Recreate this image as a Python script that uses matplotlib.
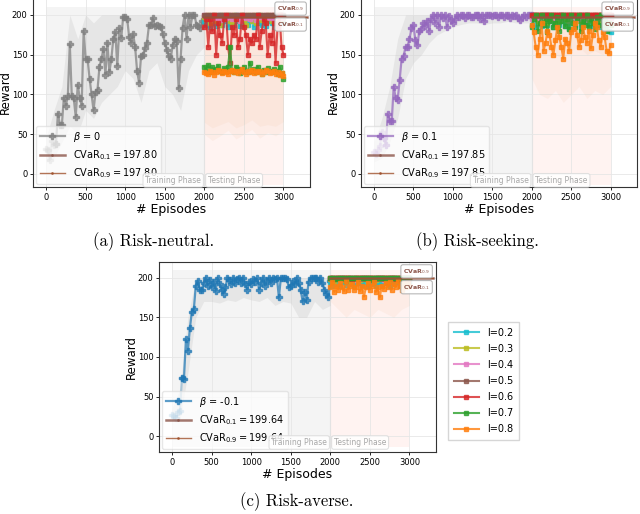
import numpy as np
import matplotlib
matplotlib.use("Agg")
import matplotlib.pyplot as plt
from matplotlib.lines import Line2D

# ---------------- data ----------------
train_ep = np.arange(0, 2001, 25)
test_ep = np.arange(2000, 3001, 25)
band_ep = np.arange(0, 2001, 100)
tband_ep = np.arange(2000, 3001, 100)

train_a = [31, 30, 17, 42, 36, 38, 76, 62, 62, 96, 86, 98, 163, 98, 95, 72, 112, 96, 86, 180,
           145, 144, 120, 100, 80, 103, 106, 135, 145, 157, 125, 165, 128, 145, 170, 178, 136, 183, 171, 198,
           198, 195, 172, 165, 176, 160, 130, 115, 148, 150, 158, 165, 187, 188, 196, 186, 187, 186, 185, 176,
           165, 156, 148, 145, 162, 170, 167, 108, 145, 184, 200, 170, 200, 185, 200, 200, 188, 186, 184, 193, 190]
train_b = [27, 25, 30, 35, 53, 45, 36, 75, 66, 67, 110, 95, 93, 118, 145, 148, 160, 160, 170, 183,
           187, 168, 162, 180, 182, 190, 186, 193, 180, 195, 200, 190, 200, 185, 200, 196, 200, 185, 199, 194,
           190, 195, 200, 198, 200, 200, 196, 200, 200, 197, 198, 200, 200, 200, 195, 200, 192, 200, 200, 200,
           199, 200, 200, 197, 200, 200, 198, 200, 200, 196, 200, 199, 200, 196, 194, 197, 200, 198, 200, 200, 200]
train_c = [27, 25, 23, 30, 32, 74, 72, 122, 108, 136, 157, 160, 190, 196, 185, 185, 193, 200, 190, 197,
           188, 195, 183, 200, 192, 185, 180, 188, 200, 197, 192, 200, 193, 198, 200, 193, 200, 192, 185, 195,
           192, 198, 195, 199, 185, 193, 200, 190, 196, 200, 193, 200, 198, 200, 175, 200, 200, 200, 198, 188,
           190, 196, 192, 200, 193, 185, 170, 182, 172, 195, 200, 200, 200, 200, 195, 200, 193, 185, 180, 175, 196]

band_a_lo = [15, 20, 40, 60, 50, 80, 70, 90, 100, 110, 130, 120, 90, 130, 140, 110, 100, 80, 130, 150, 160]
band_a_hi = [45, 80, 110, 200, 170, 200, 190, 200, 200, 200, 200, 200, 200, 200, 200, 200, 200, 200, 200, 200, 200]
band_b_lo = [15, 20, 40, 70, 120, 140, 150, 165, 175, 180, 185, 188, 190, 190, 188, 190, 190, 192, 190, 190, 190]
band_b_hi = [40, 70, 110, 170, 200, 200, 200, 200, 200, 200, 200, 200, 200, 200, 200, 200, 200, 200, 200, 200, 200]
band_c_lo = [20, 20, 80, 150, 170, 170, 168, 172, 170, 175, 172, 170, 175, 165, 170, 168, 150, 150, 170, 160, 165]
band_c_hi = [35, 60, 150, 200, 200, 200, 200, 200, 200, 200, 200, 200, 200, 200, 200, 200, 200, 200, 200, 200, 200]

levels = ["l=0.2", "l=0.3", "l=0.4", "l=0.5", "l=0.6", "l=0.7", "l=0.8"]
level_colors = ["#17becf", "#bcbd22", "#e377c2", "#8c564b", "#d62728", "#2ca02c", "#ff7f0e"]

test_a = {
    "l=0.2": [192, 188, 196, 185, 198, 190, 186, 195, 200, 188, 192, 197, 185, 190, 196, 188, 200, 193, 186, 195,
              190, 198, 187, 192, 196, 185, 193, 200, 190, 188, 195, 186, 198, 192, 190, 185, 196, 188, 193, 198, 190],
    "l=0.3": [198, 195, 200, 190, 196, 200, 192, 198, 188, 200, 195, 197, 200, 193, 190, 200, 196, 198, 192, 200,
              195, 188, 200, 197, 193, 200, 190, 196, 200, 194, 198, 191, 200, 196, 193, 200, 197, 189, 200, 195, 198],
    "l=0.4": [200, 197, 199, 195, 200, 198, 196, 200, 194, 199, 200, 196, 198, 200, 195, 199, 197, 200, 193, 198,
              200, 196, 199, 195, 200, 198, 194, 200, 197, 199, 195, 200, 198, 196, 200, 194, 199, 197, 200, 196, 199],
    "l=0.5": [200] * 41,
    "l=0.6": [185, 195, 160, 195, 180, 200, 150, 190, 175, 165, 195, 200, 160, 140, 185, 175, 195, 160, 170, 200,
              185, 175, 150, 170, 165, 175, 170, 200, 160, 180, 195, 190, 150, 175, 165, 190, 140, 185, 200, 160, 150],
    "l=0.7": [135, 130, 137, 128, 134, 130, 132, 136, 130, 128, 133, 131, 135, 160, 130, 128, 135, 132, 127, 130,
              135, 130, 128, 140, 130, 132, 128, 135, 130, 126, 131, 128, 133, 130, 128, 132, 129, 126, 135, 127, 120],
    "l=0.8": [128, 127, 126, 130, 128, 125, 128, 131, 129, 127, 130, 128, 126, 129, 131, 128, 130, 127, 129, 132,
              128, 126, 130, 128, 131, 127, 129, 128, 130, 126, 128, 131, 129, 127, 128, 130, 126, 128, 125, 127, 123],
}
test_b = {
    "l=0.2": [188, 195, 185, 198, 190, 186, 195, 200, 188, 192, 197, 185, 190, 196, 188, 200, 193, 186, 195, 182,
              190, 198, 187, 192, 196, 185, 193, 200, 190, 188, 195, 186, 198, 192, 190, 185, 196, 188, 193, 180, 178],
    "l=0.3": [198, 195, 200, 192, 196, 200, 194, 198, 190, 200, 195, 197, 200, 193, 192, 200, 196, 198, 194, 200,
              195, 190, 200, 197, 193, 200, 192, 196, 200, 194, 198, 193, 200, 196, 193, 200, 197, 191, 200, 195, 198],
    "l=0.4": [195, 200, 197, 199, 195, 200, 198, 196, 200, 194, 199, 200, 196, 198, 200, 195, 199, 197, 200, 193,
              198, 200, 196, 199, 195, 200, 198, 194, 200, 197, 199, 195, 200, 198, 196, 200, 194, 199, 197, 200, 196],
    "l=0.5": [200] * 41,
    "l=0.6": [200] * 41,
    "l=0.7": [185, 195, 200, 180, 190, 200, 188, 195, 178, 192, 200, 185, 190, 198, 180, 192, 200, 186, 195, 182,
              200, 190, 185, 196, 200, 180, 193, 188, 200, 185, 195, 190, 182, 198, 188, 200, 185, 192, 180, 190, 187],
    "l=0.8": [188, 178, 160, 150, 170, 190, 155, 165, 180, 175, 160, 150, 168, 185, 172, 160, 145, 170, 165, 155,
              178, 182, 190, 175, 160, 168, 185, 172, 165, 180, 158, 175, 190, 185, 168, 160, 178, 172, 155, 152, 162],
}
test_c = {
    "l=0.2": [194, 190, 196, 192, 198, 190, 194, 196, 191, 195, 198, 192, 190, 196, 193, 197, 191, 194, 198, 190,
              195, 192, 197, 190, 194, 196, 191, 198, 193, 195, 190, 196, 192, 197, 194, 190, 196, 193, 198, 191, 195],
    "l=0.3": [198, 200, 196, 200, 198, 200, 197, 200, 199, 200, 196, 200, 198, 200, 200, 197, 200, 198, 200, 196,
              200, 199, 200, 197, 200, 198, 200, 200, 196, 200, 198, 200, 199, 200, 197, 200, 198, 200, 196, 200, 199],
    "l=0.4": [200, 198, 200, 199, 200, 197, 200, 200, 198, 200, 199, 200, 197, 200, 200, 198, 200, 199, 200, 200,
              197, 200, 198, 200, 199, 200, 200, 197, 200, 198, 200, 199, 200, 200, 198, 200, 197, 200, 199, 200, 198],
    "l=0.5": [200] * 41,
    "l=0.6": [200, 200, 198, 200, 200, 200, 199, 200, 200, 200, 200, 198, 200, 200, 200, 200, 200, 199, 200, 200,
              200, 200, 198, 200, 200, 200, 200, 200, 199, 200, 200, 200, 200, 198, 200, 200, 200, 200, 199, 200, 200],
    "l=0.7": [200, 200, 200, 198, 200, 200, 200, 200, 196, 200, 200, 200, 200, 200, 198, 200, 200, 200, 200, 200,
              200, 197, 200, 200, 200, 200, 200, 200, 198, 200, 200, 200, 200, 200, 200, 196, 200, 200, 200, 200, 200],
    "l=0.8": [188, 195, 182, 190, 185, 193, 188, 183, 196, 185, 190, 192, 185, 188, 195, 183, 190, 176, 188, 193,
              185, 190, 195, 182, 188, 175, 190, 186, 193, 188, 195, 185, 192, 188, 196, 190, 185, 193, 188, 195, 190],
}

tband = {
    "a": {"l=0.8": ([50, 42, 48, 55, 44, 50, 56, 45, 52, 48, 55], [200] * 11),
          "l=0.7": ([65, 58, 62, 66, 58, 62, 68, 60, 62, 60, 66], [200] * 11)},
    "b": {"l=0.8": ([120, 100, 95, 105, 90, 100, 110, 95, 105, 100, 110], [200] * 11),
          "l=0.7": ([160, 150, 155, 150, 145, 155, 160, 150, 155, 150, 160], [200] * 11)},
    "c": {"l=0.8": ([170, 160, 150, 160, 155, 150, 160, 155, 150, 160, 165], [200] * 11),
          "l=0.7": ([190, 185, 188, 185, 186, 188, 185, 186, 188, 185, 190], [200] * 11)},
}

panels = [
    dict(key="a", train=train_a, lo=band_a_lo, hi=band_a_hi, color="#7f7f7f", beta=r"$\beta$ = 0",
         cvar="197.80", test=test_a, cvar_val=197.80,
         rect=(33 / 640, 1 - 187 / 514, 277 / 640, 190 / 514), ylim=(-16.4, 222.6),
         caption="(a) Risk-neutral.", cap_xy=(154 / 640, 1 - 242 / 514)),
    dict(key="b", train=train_b, lo=band_b_lo, hi=band_b_hi, color="#9467bd", beta=r"$\beta$ = 0.1",
         cvar="197.85", test=test_b, cvar_val=197.85,
         rect=(361 / 640, 1 - 187 / 514, 276 / 640, 190 / 514), ylim=(-16.4, 222.6),
         caption="(b) Risk-seeking.", cap_xy=(477 / 640, 1 - 242 / 514)),
    dict(key="c", train=train_c, lo=band_c_lo, hi=band_c_hi, color="#1f77b4", beta=r"$\beta$ = -0.1",
         cvar="199.64", test=test_c, cvar_val=199.64,
         rect=(159 / 640, 1 - 452 / 514, 277 / 640, 190 / 514), ylim=(-20.0, 219.8),
         caption="(c) Risk-averse.", cap_xy=(297 / 640, 1 - 502 / 514)),
]

fig = plt.figure(figsize=(6.4, 5.14), dpi=100)
brown = "#8c564b"

for p in panels:
    ax = fig.add_axes(p["rect"])
    ax.set_xlim(-165, 3335)
    ax.set_ylim(*p["ylim"])
    # phase backgrounds
    ax.fill_between([0, 2000], -14, 210, color="#ececec", alpha=0.55, lw=0, zorder=0)
    ax.fill_between([2000, 3000], -14, 210, color="#ffe6e2", alpha=0.45, lw=0, zorder=0)
    ax.axvline(2000, color="#d8d8d8", lw=0.8, zorder=0.5)
    ax.grid(True, color="#e6e6e6", lw=0.6, zorder=0.2)
    ax.set_axisbelow(True)

    # training band + line
    ax.fill_between(band_ep, p["lo"], p["hi"], color="#bdbdbd", alpha=0.25, lw=0, zorder=1)
    tr = np.array(p["train"])
    ax.plot(train_ep[:6], tr[:6], color=p["color"], alpha=0.3, lw=1.6, marker="P", ms=4, zorder=3)
    ax.plot(train_ep[5:], tr[5:], color=p["color"], alpha=0.72, lw=1.6, marker="P", ms=4, zorder=3)

    # testing bands
    for lv, (lo, hi) in tband[p["key"]].items():
        ax.fill_between(tband_ep, lo, hi, color="#e8a070", alpha=0.08, lw=0, zorder=1)

    # testing lines
    for lv, c in zip(levels, level_colors):
        lw = 2.5 if lv == "l=0.5" else 1.5
        ax.plot(test_ep, p["test"][lv], color=c, alpha=0.8, lw=lw, marker="s", ms=3, zorder=4)

    # CVaR lines
    ax.plot([2000, 3300], [p["cvar_val"], p["cvar_val"]], color=brown, lw=1.8, alpha=0.8, zorder=5)
    ax.plot([2000, 3300], [p["cvar_val"], p["cvar_val"]], color="#a0522d", lw=0.8, alpha=0.8, zorder=5)

    # annotations
    box = dict(boxstyle="round,pad=0.35", fc="white", ec="#b0b0b0", lw=0.8, alpha=0.9)
    ax.text(3090, 208, r"CVaR$_{0.9}$", fontsize=4.5, color=brown, fontweight="bold",
            ha="center", va="center", bbox=box, zorder=6)
    ax.text(3090, 188, r"CVaR$_{0.1}$", fontsize=4.5, color=brown, fontweight="bold",
            ha="center", va="center", bbox=box, zorder=6)

    ax.set_xticks([0, 500, 1000, 1500, 2000, 2500, 3000])
    ax.set_yticks([0, 50, 100, 150, 200])
    ax.tick_params(labelsize=6, length=2.5, width=0.6, pad=1.5)
    ax.set_xlabel("# Episodes", fontsize=9, labelpad=1)
    ax.set_ylabel("Reward", fontsize=8.5)
    ax.yaxis.set_label_coords(-0.076, 0.5)
    for s in ax.spines.values():
        s.set_color("#333333")
        s.set_linewidth(0.8)

    handles = [
        Line2D([], [], color=p["color"], lw=1.6, marker="P", ms=4, alpha=0.72),
        Line2D([], [], color=brown, lw=1.8, marker=".", ms=2, alpha=0.8),
        Line2D([], [], color="#a0522d", lw=1.0, marker=".", ms=2, alpha=0.8),
    ]
    labels = [p["beta"], r"CVaR$_{0.1}=$" + p["cvar"], r"CVaR$_{0.9}=$" + p["cvar"]]
    leg = ax.legend(handles, labels, loc="lower left", fontsize=7, frameon=True, framealpha=0.7,
                    edgecolor="#dddddd", handlelength=2.6, borderaxespad=0.3, labelspacing=0.45)
    leg.set_zorder(5.5)

    pbox = dict(boxstyle="round,pad=0.3", fc="white", ec="#dcdcdc", lw=0.8, alpha=0.85)
    ax.text(1960, -8, "Training Phase", fontsize=5.5, color="#a8a8a8", ha="right", va="center",
            bbox=pbox, zorder=7)
    ax.text(2045, -8, "Testing Phase", fontsize=5.5, color="#a8a8a8", ha="left", va="center",
            bbox=pbox, zorder=7)

    fig.text(p["cap_xy"][0], p["cap_xy"][1], p["caption"], fontsize=12, family="cmr10",
             ha="center", va="center")

lev_handles = [Line2D([], [], color=c, lw=1.5, marker="s", ms=2.5, alpha=0.8) for c in level_colors]
fig.legend(lev_handles, levels, loc="upper left", bbox_to_anchor=(448 / 640, 1 - 322 / 514),
           fontsize=7, frameon=True, edgecolor="#cccccc", fancybox=False, handlelength=2.6,
           labelspacing=0.62, borderaxespad=0, borderpad=0.6)

fig.savefig("out.png", dpi=100, facecolor="white")
